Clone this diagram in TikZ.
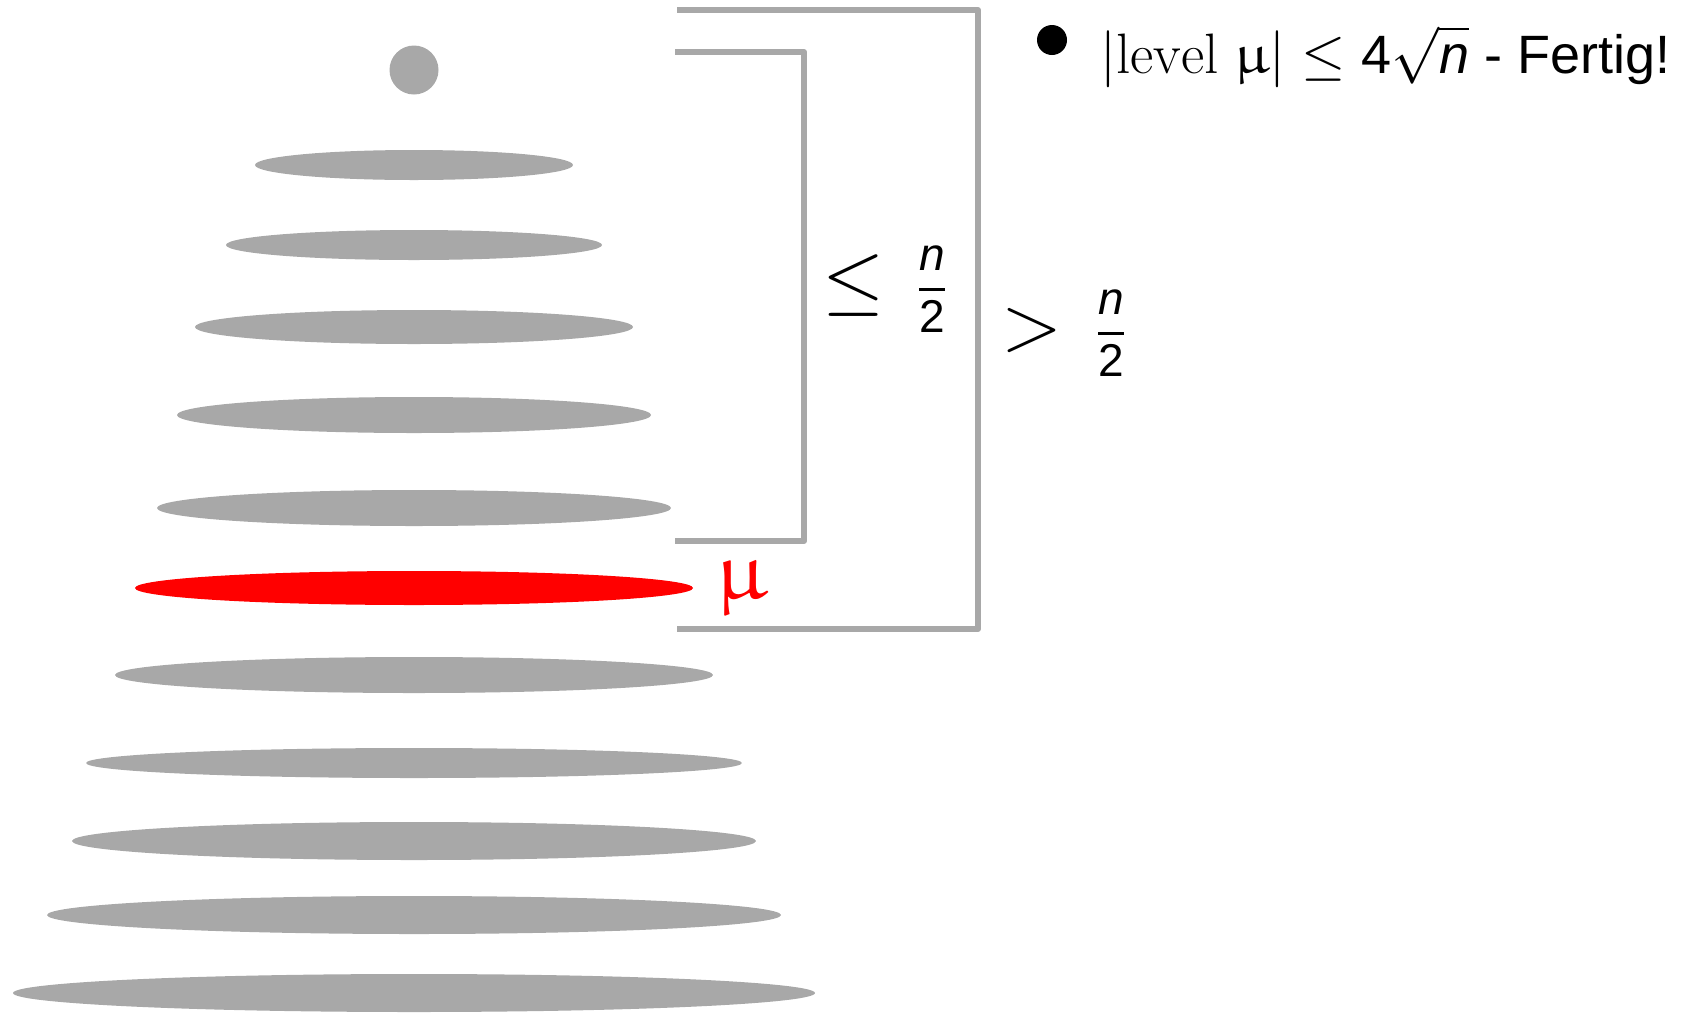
\RequirePackage{fix-cm}
\documentclass[tikz,border=0pt]{standalone}
\usepackage{amsmath}
\usepackage{upgreek}
\usepackage{fontspec}
\newfontfamily\helv{Liberation Sans}
\usetikzlibrary{positioning}
\definecolor{slabgray}{HTML}{A8A8A8}
\definecolor{slabred}{HTML}{FF0000}
\newcommand{\halfn}{$\displaystyle\genfrac{}{}{1.5pt}{0}{\text{\itshape n}}{\text{2}}$}
\newcommand{\notesize}{\fontsize{27}{32}\selectfont}
\tikzset{
	slab/.style={fill=slabgray}, % grey levels
	cutslab/.style={fill=slabred}, % the level mu
	bracket/.style={draw=slabgray, line width=3pt, line join=round}, % level brackets
	rel/.style={inner sep=0pt, font=\fontsize{40}{48}\selectfont}, % big relation signs
	frac/.style={inner sep=0pt, font=\helv\fontsize{23}{28}\selectfont}, % n/2 labels
}

\begin{document}
\begin{tikzpicture}[x=0.5pt, y=-0.5pt]
		\useasboundingbox (0,0) rectangle (1692,1013);
		% root and levels
		\fill[slab] (414,70) circle [radius=24.5];
		\fill[slab] (414,165) ellipse [x radius=159, y radius=15];
		\fill[slab] (414,245) ellipse [x radius=188, y radius=15];
		\fill[slab] (414,327) ellipse [x radius=219, y radius=17];
		\fill[slab] (414,415) ellipse [x radius=237, y radius=18];
		\fill[slab] (414,508) ellipse [x radius=257, y radius=18];
		\fill[cutslab] (414,588) ellipse [x radius=279, y radius=17];
		\fill[slab] (414,675) ellipse [x radius=299, y radius=18];
		\fill[slab] (414,763) ellipse [x radius=328, y radius=15];
		\fill[slab] (414,841) ellipse [x radius=342, y radius=19];
		\fill[slab] (414,915) ellipse [x radius=367, y radius=19];
		\fill[slab] (414,993) ellipse [x radius=401, y radius=19];
		
		% brackets
		\draw[bracket] (675,52) -| (804,541) -- (675,541);
		\draw[bracket] (677,10) -| (978,629) -- (677,629);
		
		% labels
		\node[text=slabred, inner sep=0pt, font=\fontsize{42}{50}\selectfont] (mu) at (741,588) {$\upmu$};
		\node[rel] (le) at (854,285) {$\leq$};
		\node[frac] (lefrac) at (932,289) {\halfn};
		\node[rel] (gt) at (1032,330) {$>$};
		\node[frac] (gtfrac) at (1111,333) {\halfn};
		
		% note
		\node[circle, fill=black, inner sep=0pt, minimum size=15pt] (bullet) at (1052,40) {};
		\node[anchor=base west, inner sep=0pt, font=\helv\notesize] (done) at (1100,73)
			{{\fontsize{28.5}{32}\selectfont$|\mathrm{level}\ \upmu| \leq \text{\notesize 4}\sqrt{\text{\notesize\itshape n}}$} - Fertig!};
\end{tikzpicture}
\end{document}
